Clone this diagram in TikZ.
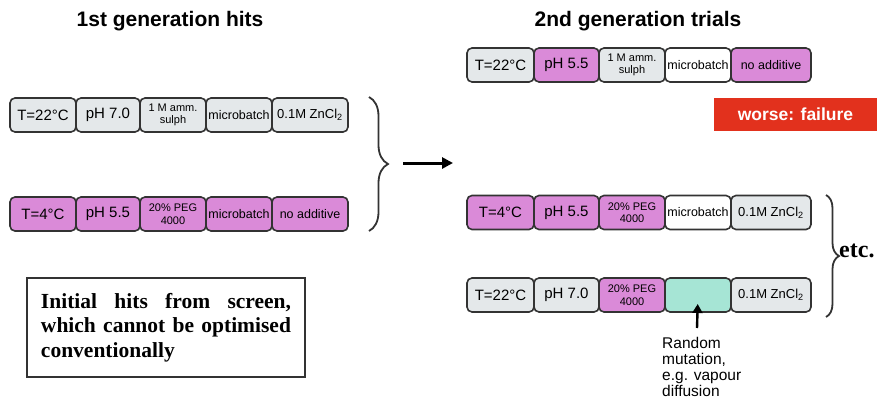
\documentclass[tikz,border=0pt]{standalone}
\usepackage{fontspec}
\setmainfont{Liberation Sans}
\newfontfamily\serifbf{Liberation Serif}
\usetikzlibrary{decorations.pathreplacing,arrows.meta}
\definecolor{cgrey}{HTML}{E4E8EA}
\definecolor{cpink}{HTML}{DA8AD8}
\definecolor{cteal}{HTML}{A6E5D5}
\definecolor{cred}{HTML}{E2311D}
\definecolor{cline}{HTML}{333333}
\tikzset{
  cell/.style={draw=cline, line width=1.6pt, rounded corners=5pt, minimum height=34pt,
    inner sep=1pt, align=center, font=\fontsize{15}{17}\selectfont},
  grey/.style={fill=cgrey},
  pink/.style={fill=cpink},
  white/.style={fill=white},
  teal/.style={fill=cteal},
  small/.style={font=\fontsize{11}{12.5}\selectfont},
  mid/.style={font=\fontsize{12.5}{14}\selectfont},
  zn/.style={font=\fontsize{13}{15}\selectfont},
  title/.style={font=\fontsize{21}{24}\selectfont\bfseries},
  bracestyle/.style={draw=cline, line width=1.8pt, decorate},
  arrowline/.style={draw=black, line width=3pt, -{Triangle[length=11pt,width=11pt]}},
}
\newcommand{\zncl}{0.1M ZnCl\textsubscript{2}}
\begin{document}
\begin{tikzpicture}[x=1pt,y=-1pt]
\useasboundingbox (0,0) rectangle (879,408);

% titles
\node[title] (t1) at (170,21) {1st generation hits};
\node[title] (t2) at (638,21) {2nd generation trials};

% left row 1
\node[cell,grey,minimum width=66pt] (a1) at (43,115) {T=22°C};
\node[cell,grey,minimum width=64pt] (a2) at (108,115) {pH 7.0};
\node[cell,grey,small,minimum width=66pt] (a3) at (173,115) {1 M amm.\\sulph};
\node[cell,grey,mid,minimum width=66pt] (a4) at (239,115) {microbatch};
\node[cell,grey,zn,minimum width=76pt] (a5) at (310,115) {\zncl};

% left row 2
\node[cell,pink,minimum width=66pt] (b1) at (43,214) {T=4°C};
\node[cell,pink,minimum width=64pt] (b2) at (108,214) {pH 5.5};
\node[cell,pink,small,minimum width=66pt] (b3) at (173,214) {20\% PEG\\4000};
\node[cell,pink,mid,minimum width=66pt] (b4) at (239,214) {microbatch};
\node[cell,pink,mid,minimum width=76pt] (b5) at (310,214) {no additive};

% left brace
\coordinate (lb1) at (369,97);
\coordinate (lb2) at (369,231);
\draw[bracestyle,decoration={brace,amplitude=19pt}] (lb1) -- (lb2);

% main arrow
\coordinate (ar1) at (403,163);
\coordinate (ar2) at (453,163);
\draw[arrowline] (ar1) -- (ar2);

% right row 1
\node[cell,grey,minimum width=67pt] (c1) at (500.5,65) {T=22°C};
\node[cell,pink,minimum width=65pt] (c2) at (566.5,65) {pH 5.5};
\node[cell,grey,small,minimum width=66pt] (c3) at (632,65) {1 M amm.\\sulph};
\node[cell,white,mid,minimum width=66pt] (c4) at (698,65) {microbatch};
\node[cell,pink,mid,minimum width=80pt] (c5) at (771,65) {no additive};

% failure box
\node[fill=cred, minimum width=163pt, minimum height=33pt, inner sep=0pt,
      text=white, font=\fontsize{17.5}{20}\selectfont\bfseries] (fail) at (795.5,114.5) {worse: failure};

% right row 3
\node[cell,pink,minimum width=67pt] (d1) at (500.5,212.5) {T=4°C};
\node[cell,pink,minimum width=65pt] (d2) at (566.5,212.5) {pH 5.5};
\node[cell,pink,small,minimum width=66pt] (d3) at (632,212.5) {20\% PEG\\4000};
\node[cell,white,mid,minimum width=66pt] (d4) at (698,212.5) {microbatch};
\node[cell,grey,zn,minimum width=80pt] (d5) at (771,212.5) {\zncl};

% right row 4
\node[cell,grey,minimum width=67pt] (e1) at (500.5,295) {T=22°C};
\node[cell,grey,minimum width=65pt] (e2) at (566.5,295) {pH 7.0};
\node[cell,pink,small,minimum width=66pt] (e3) at (632,295) {20\% PEG\\4000};
\node[cell,teal,minimum width=66pt] (e4) at (698,295) {};
\node[cell,grey,zn,minimum width=80pt] (e5) at (771,295) {\zncl};

% right brace
\coordinate (rb1) at (826,195);
\coordinate (rb2) at (826,317);
\draw[bracestyle,decoration={brace,amplitude=13pt}] (rb1) -- (rb2);
\node[anchor=west, inner sep=0pt, font=\serifbf\bfseries\fontsize{24}{26}\selectfont] (etc) at (839,251) {etc.};

% mutation arrow and label
\coordinate (mfoot) at (697,328);
\draw[draw=black, line width=2.4pt, -{Triangle[length=9pt,width=10pt]}, shorten >=9pt] (mfoot) -- (e4.center);
\node[anchor=north west, inner sep=0pt, align=left, font=\fontsize{15.5}{16}\selectfont] (mlabel) at (662,337)
  {Random\\mutation,\\e.g. vapour\\diffusion};

% explanatory box
\node[draw=cline, line width=1.6pt, minimum width=278pt, minimum height=99pt, inner sep=0pt,
      text width=250pt, align=justify, font=\serifbf\bfseries\fontsize{21.5}{24.5}\selectfont] (note) at (166,327.5)
  {Initial hits from screen, which cannot be optimised conventionally};
\end{tikzpicture}
\end{document}
